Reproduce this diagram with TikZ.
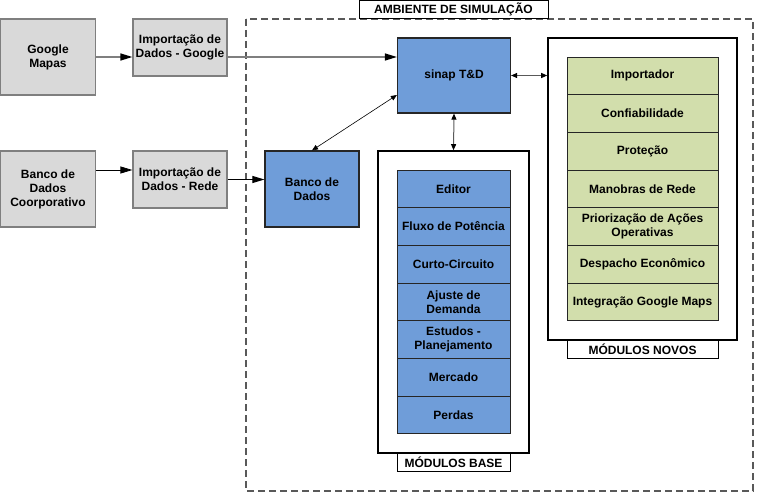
\documentclass[tikz,border=0pt]{standalone}
\usepackage{fontspec}
\setmainfont{Liberation Sans}
\usetikzlibrary{arrows.meta}
\definecolor{grayfill}{HTML}{D9D9D9}
\definecolor{grayline}{HTML}{7F7F7F}
\definecolor{bluefill}{HTML}{6F9DD9}
\definecolor{greenfill}{HTML}{D2DEAC}

\begin{document}
\begin{tikzpicture}[x=1pt,y=-1pt,font=\bfseries\fontsize{12}{14}\selectfont,
    extbox/.style={draw=grayline,line width=1.2pt,fill=grayfill,align=center,inner sep=0pt},
    bluebox/.style={draw=black!85,line width=1.2pt,fill=bluefill,align=center,inner sep=0pt},
    greenbox/.style={draw=black!85,line width=0.9pt,fill=greenfill,align=center,inner sep=0pt,minimum width=151pt,minimum height=37.7pt},
    modrow/.style={draw=black!85,line width=0.9pt,fill=bluefill,align=center,inner sep=0pt,minimum width=113pt,minimum height=37.7pt},
    frame/.style={draw=black,line width=1.6pt,fill=white,inner sep=0pt},
    tag/.style={draw=black,line width=0.7pt,fill=white,inner sep=0pt,minimum height=18pt},
    bigtip/.style={-{Triangle[length=12pt,width=7pt,color=black]}},
    duptip/.style={{Triangle[length=6pt,width=5pt,color=black]}-{Triangle[length=6pt,width=5pt,color=black]}}]
    \useasboundingbox (0,0) rectangle (757,492);

    % ambiente de simulacao
    \draw[black!65,line width=1.3pt,dash pattern=on 7pt off 4pt](246,19) rectangle (753,491);
    \node[tag,minimum width=189pt] (envlabel) at (453.5,9.5) {AMBIENTE DE SIMULAÇÃO};

    % fontes externas
    \node[extbox,minimum width=95pt,minimum height=76pt] (gmaps) at (48,57) {Google\\Mapas};
    \node[extbox,minimum width=94pt,minimum height=57pt] (impgoogle) at (180,47.5) {Importação de\\Dados - Google};
    \node[extbox,minimum width=95pt,minimum height=76pt] (bdcorp) at (48,189) {Banco de\\Dados\\Coorporativo};
    \node[extbox,minimum width=94pt,minimum height=57pt] (imprede) at (180,179.5) {Importação de\\Dados - Rede};

    \node[bluebox,minimum width=94pt,minimum height=76pt] (bd) at (312,189) {Banco de\\Dados};
    \node[bluebox,minimum width=113pt,minimum height=75pt] (sinap) at (454,75.5) {sinap T\&D};

    % modulos base
    \node[frame,minimum width=151pt,minimum height=302pt] (basebox) at (453.5,302) {};
    \foreach \txt [count=\i] in {Editor,Fluxo de Potência,Curto-Circuito,{Ajuste de\\Demanda},{Estudos -\\Planejamento},Mercado,Perdas}
        \node[modrow] (base\i) at (453.5,{170+37.7*(\i-0.5)}) {\txt};
    \node[tag,minimum width=113pt] (baselabel) at (453.5,462) {MÓDULOS BASE};

    % modulos novos
    \node[frame,minimum width=189pt,minimum height=302pt] (novosbox) at (642.5,189) {};
    \foreach \txt [count=\i] in {Importador,Confiabilidade,Proteção,Manobras de Rede,{Priorização de Ações\\Operativas},Despacho Econômico,Integração Google Maps}
        \node[greenbox] (novo\i) at (642.5,{57+37.7*(\i-0.5)}) {\txt};
    \node[tag,minimum width=151pt] (novoslabel) at (642.5,349) {MÓDULOS NOVOS};

    % conexoes
    \draw[bigtip,grayline,line width=1.3pt](gmaps.east)--(gmaps.east -| impgoogle.west);
    \draw[bigtip,grayline,line width=1.3pt](gmaps.east -| impgoogle.east)--(gmaps.east -| sinap.west);
    \draw[bigtip,line width=0.8pt]([yshift=19pt]bdcorp.east)--([yshift=9.5pt]imprede.west);
    \draw[bigtip,line width=0.8pt](imprede.east)--(imprede.east -| bd.west);
    \draw[duptip,line width=0.6pt](bd.north)--([yshift=-19.5pt]sinap.west);
    \draw[duptip,grayline!70!black,line width=1pt](sinap.east)--(sinap.east -| novosbox.west);
    \draw[duptip,grayline!70!black,line width=1pt](sinap.south)--(basebox.north);
\end{tikzpicture}
\end{document}
